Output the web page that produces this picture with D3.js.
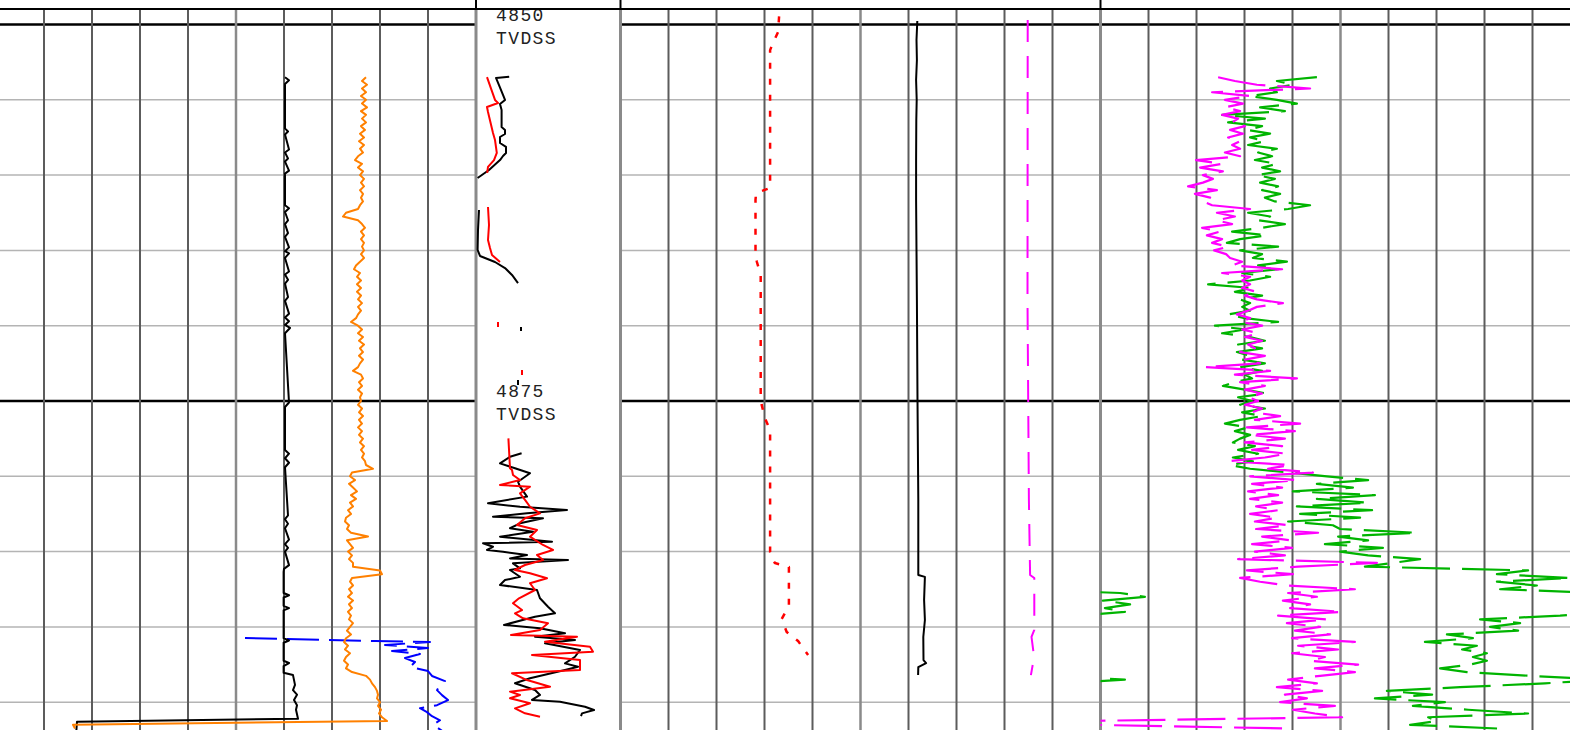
<!DOCTYPE html>
<html>
<head>
<meta charset="utf-8">
<script src="https://cdn.jsdelivr.net/npm/d3@7/dist/d3.min.js"></script>
<style>
  html, body { margin: 0; padding: 0; background: #fff; overflow: hidden; }
  svg { display: block; }
</style>
</head>
<body>
<div id="log-container"></div>
<script>
// Depth reference (metres TVDSS)
const majorDepths = [4850, 4875];
const gridDepths = [4845, 4850, 4855, 4860, 4865, 4870, 4875, 4880, 4885, 4890, 4895, 4900];
const depthUnit = 'TVDSS';

// Regularly sampled logs: top depth and step as in the LAS file
const sampleTop = 4853.5;
const sampleStep = 0.25;

// Track 1, orange curve
const grValues = [
  92.5, 91.5, 92.75, 91.5, 92.5, 91.25, 92.5, 91.5, 92.75, 91.25,
  92.5, 91.5, 92.5, 91.25, 92.25, 91, 92, 90.75, 92, 91,
  91.75, 90.5, 89.75, 91.5, 90.5, 91.75, 91, 92, 91.25, 92,
  91, 91.75, 91.25, 91.75, 91, 90.5, 87.5, 86.75, 90.5, 91.5,
  92.25, 91.25, 92, 91.25, 92, 91.5, 92, 91.25, 92, 91,
  90, 89.5, 91, 90.25, 91.25, 90.25, 91.25, 90.25, 91.25, 90.5,
  91.5, 90.5, 91.25, 90.5, 90, 88.75, 90.5, 91.5, 90.5, 91.75,
  90.75, 92, 91, 91.75, 90.75, 91.75, 91, 90.5, 89.25, 91.25,
  91.75, 90.75, 91.5, 90.5, 91.5, 91, 91.25, 90.5, 91.5, 90.75,
  91.75, 90.75, 91.5, 90.5, 91.5, 90.75, 91.75, 91, 92, 91.25,
  92, 91.5, 92.25, 92.5, 94.25, 89, 88.5, 89.75, 88.25, 89.25,
  90.25, 88.75, 90, 88.5, 89.25, 88, 88.75, 87.5, 87.25, 88.25,
  87.75, 88.75, 93, 87.75, 88.5, 89.25, 88, 89, 88.25, 89.25,
  89.25, 96, 96.5, 89, 88.5, 89.25, 88.25, 89, 88, 89.25,
  88.25, 89, 88, 88.75, 88.25, 89.25, 88.5, 87.75, 88.75, 87.5,
  87, 88, 87.25, 88.5, 87.5, 87, 88, 87.5, 89, 92.5,
  93.5, 94, 94.75, 95.25, 95.5, 95.25, 96, 95.5, 96.25, 95.75,
  96.5, 97.75, 19.25, 19.75
];

// Track 3, magenta curve
const rhobValues = [
  29.4, 33.6, 39.1, 52.4, 27.9, 37.4, 31.1, 35.6, 31.1, 34.9,
  30.4, 34.4, 32.9, 36.1, 32.4, 35.6, 31.9, 34.9, 32.9, 34.9,
  31.1, 34.9, 23.9, 30.4, 24.9, 30.6, 25.6, 28.1, 25.6, 21.9,
  29.1, 23.6, 27.4, 25.6, 27.9, 37.4, 29.1, 33.6, 29.1, 32.9,
  25.4, 29.9, 26.6, 30.4, 27.9, 31.9, 28.4, 31.4, 32.4, 35.4,
  32.9, 45.4, 30.4, 37.4, 35.4, 37.4, 35.4, 39.1, 36.1, 39.1,
  45.6, 39.1, 36.9, 34.1, 37.4, 34.9, 40.4, 35.4, 39.4, 36.1,
  40.4, 36.9, 38.6, 34.9, 41.1, 36.1, 39.9, 26.1, 42.4, 33.6,
  49.1, 34.9, 41.1, 36.1, 40.4, 36.9, 39.4, 36.1, 40.4, 37.9,
  44.9, 38.6, 49.9, 36.6, 48.6, 37.4, 46.1, 36.1, 45.4, 37.9,
  46.6, 41.1, 31.9, 47.4, 41.9, 53.1, 37.4, 49.1, 37.9, 45.4,
  36.9, 44.4, 37.4, 45.4, 38.9, 44.4, 37.4, 44.1, 38.6, 46.9,
  38.9, 54.4, 40.4, 47.4, 37.9, 47.9, 38.6, 46.1, 34.4, 69.1,
  49.4, 36.6, 48.1, 34.9, 39.9, 46.6, 63.6, 46.9, 54.1, 45.6,
  52.4, 47.4, 60.4, 44.4, 56.6, 46.6, 54.9, 48.6, 57.4, 47.9,
  63.6, 49.4, 59.4, 47.9, 56.1, 52.4, 64.4, 53.6, 63.6, 54.9,
  46.9, 54.1, 44.1, 55.4, 46.1, 51.6, 44.9, 58.6, 48.1, 53.6,
  60.4, -5.1, -2.6, 47.4
];

// Track 3, green curve (values above 120 wrap back in from the left)
const nphiValues = [
  54.1, 44.1, 48.1, 42.4, 44.1, 37.4, 44.1, 49.1, 39.9, 46.1,
  30.4, 41.1, 31.9, 40.4, 36.6, 42.4, 37.4, 41.1, 36.9, 44.1,
  39.4, 42.9, 38.6, 44.1, 40.4, 44.9, 39.1, 43.6, 39.9, 44.4,
  40.4, 44.9, 41.1, 43.6, 52.4, 46.9, 36.9, 42.4, 39.4, 46.1,
  40.4, 32.9, 41.6, 34.9, 31.6, 44.4, 34.9, 40.4, 38.1, 46.6,
  39.4, 44.4, 35.4, 42.4, 37.4, 26.9, 37.9, 33.6, 40.4, 34.9,
  37.4, 35.4, 37.4, 31.9, 36.1, 44.4, 28.6, 36.1, 30.4, 37.4,
  41.1, 34.4, 40.4, 34.1, 37.4, 35.4, 41.1, 34.9, 40.4, 36.1,
  37.9, 33.6, 30.6, 36.1, 41.6, 34.4, 37.9, 34.9, 41.1, 35.4,
  40.4, 34.9, 31.1, 36.9, 33.6, 37.4, 34.9, 33.1, 38.6, 34.4,
  39.4, 33.1, 38.1, 32.4, 37.4, 47.4, 56.6, 66.9, 54.1, 63.1,
  48.1, 68.6, 54.1, 66.9, 49.1, 67.9, 49.9, 64.9, 46.9, 58.1,
  59.9, 79.1, 59.4, 66.9, 56.1, 70.6, 59.9, 66.9, 79.9, 73.1,
  66.1, 106.9, 99.1, 117.4, 99.1, 109.1, 99.9, 124.9, 131.1, 120.6,
  127.4, 121.1, 126.1, 114.9, 94.9, 104.9, 97.4, 104.4, 86.6, 93.1,
  81.1, 94.1, 90.4, 96.6, 93.1, 96.6, 92.4, 84.9, 91.6, 107.4,
  126.1, 111.1, 89.9, 71.6, 82.9, 68.6, 86.1, 78.1, 91.9, 106.9,
  81.9, 84.1, 77.4, 99.4
];

// Irregular curves as [depth, value]
// Track 1, black curve
const t1Black = [
  [4853.5, 72.25], [4853.7, 73.25], [4853.95, 72.25], [4856.9, 72.25], [4857.1, 73.0], [4857.3, 72.25],
  [4858.3, 73.25], [4858.5, 72.25], [4858.9, 73.0], [4859.1, 72.25], [4859.7, 73.25], [4859.9, 72.25],
  [4862.0, 72.25], [4862.2, 73.25], [4862.45, 72.25], [4863.0, 73.0], [4863.25, 72.25], [4863.85, 73.0],
  [4864.1, 72.25], [4864.8, 73.25], [4865.05, 72.25], [4865.2, 73.25], [4865.5, 72.25], [4866.4, 73.25],
  [4866.6, 72.25], [4866.95, 73.0], [4867.2, 72.25], [4868.1, 73.0], [4868.35, 72.25], [4869.2, 73.25],
  [4869.45, 72.25], [4869.7, 73.25], [4869.95, 72.25], [4870.15, 73.5], [4870.5, 72.25], [4875.1, 73.25],
  [4875.4, 72.25], [4878.25, 72.25], [4878.5, 73.25], [4878.8, 72.25], [4879.1, 73.25], [4879.4, 72.25],
  [4882.6, 73.0], [4882.85, 72.25], [4883.15, 73.0], [4883.45, 72.25], [4884.2, 73.25], [4884.5, 72.25],
  [4884.75, 73.0], [4885.0, 72.25], [4885.9, 73.25], [4886.15, 72.0], [4886.35, 71.9], [4887.75, 71.9],
  [4887.9, 73.25], [4888.05, 71.9], [4888.6, 71.9], [4888.75, 73.25], [4888.9, 71.9], [4890.75, 71.9],
  [4890.9, 73.25], [4891.05, 71.9], [4892.25, 71.9], [4892.4, 73.25], [4892.6, 71.9], [4893.05, 71.9],
  [4893.2, 74.25], [4893.85, 74.75], [4894.2, 74.25], [4894.5, 75.25], [4894.85, 74.5], [4895.2, 75.25],
  [4895.5, 75.0], [4896.1, 75.5], [4896.3, 20.25], [4897.2, 20.0]
];

// Track 1, blue curve
const t1Blue = [
  [4890.74, 62.25], [4890.94, 94.75], [4891.0, 108.5], [4891.2, 97.25], [4891.4, 108], [4891.6, 99],
  [4891.8, 106], [4892.07, 102.25], [4892.33, 104.75], [4892.66, 103.5], [4892.93, 108], [4893.26, 109],
  [4893.6, 112.25], [4893.86, 111], [4894.2, 110.25], [4894.53, 111.5], [4894.86, 113], [4895.2, 110.25],
  [4895.4, 106], [4895.66, 107.75], [4895.93, 109], [4896.2, 111], [4896.5, 109.25], [4896.9, 111.5]
];

// Track 2 curves
const t2Red = [
  [4848.4, 39.9], [4850.5, 39.4], [4851.23, 38.1], [4851.7, 37.4], [4860.86, 37.4], [4861.19, 33.9],
  [4861.65, 33.75], [4865.3, 33.75], [4865.77, 34.1], [4866.63, 35.05], [4874.93, 35.05], [4875.26, 35.3],
  [4876.13, 36.1], [4876.93, 37.4], [4885.03, 37.4], [4885.43, 37.9], [4885.76, 38.6], [4886.02, 42.1],
  [4888.61, 42.1], [4889.48, 40.3], [4890.34, 41.55], [4890.94, 44.4], [4891.87, 46.9]
];
const t2Black = [
  [4849.77, 74.2], [4851.03, 74.0], [4852.36, 74.1], [4853.69, 73.9], [4855.0, 74.05], [4856.34, 73.95],
  [4859.0, 73.9], [4861.65, 73.9], [4865.0, 74.0], [4868.29, 74.1], [4874.93, 74.25], [4881.57, 74.45],
  [4886.55, 74.45], [4886.68, 76.1], [4888.21, 75.9], [4889.54, 76.1], [4890.67, 75.7], [4892.2, 75.75],
  [4892.4, 76.4], [4892.67, 74.45], [4893.2, 74.4]
];
const t2Magenta = [
  [4849.7, 101.8], [4868.29, 101.75], [4881.57, 102.1], [4886.55, 102.4], [4886.75, 103.45],
  [4890.2, 103.45], [4890.67, 102.75], [4892.0, 103.4], [4893.2, 102.6]
];

// Depth track curves (null = no data)
const dtBlack = [
  [4853.47, 8.3], [4853.55, 5.0], [4854.02, 5.75], [4854.68, 6.75], [4855.01, 7.25], [4855.28, 6.0],
  [4855.68, 6.4], [4856.81, 6.4], [4857.0, 7.25], [4857.27, 7.25], [4857.47, 6.0], [4857.87, 6.0],
  [4858.13, 7.5], [4858.53, 7.5], [4858.73, 6.75], [4859.0, 6.0], [4859.66, 3.25], [4860.19, 0.4],
  [4861, null],
  [4862.32, 0.75], [4863.65, 0.5], [4864.97, 0.4], [4865.37, 1.0], [4865.77, 4.75], [4866.17, 7.25],
  [4866.63, 9.0], [4867.17, 10.5],
  [4868, null], [4870.08, 11.25], [4870.35, 11.25], [4871, null], [4873.6, 10.5], [4873.94, 10.5], [4875, null],
  [4878.47, 11.4], [4878.7, 8.5], [4879.14, 6.0], [4879.47, 9.75], [4879.8, 13.5], [4880.36, 10.5],
  [4880.69, 11.0], [4881.35, 12.75], [4881.79, 3.0], [4882.02, 11.0], [4882.24, 22.75], [4882.46, 12.75],
  [4882.68, 4.25], [4882.79, 16.75], [4883.12, 11.0], [4883.45, 8.5], [4883.68, 14.25], [4884.01, 6.0],
  [4884.34, 19.0], [4884.45, 1.75], [4884.68, 4.25], [4884.89, 2.75], [4885.01, 6.75], [4885.23, 12.75],
  [4885.45, 8.5], [4885.56, 23.0], [4885.78, 9.25], [4886.11, 11.0], [4886.22, 8.5], [4886.67, 11.0],
  [4886.89, 7.25], [4887.22, 6.0], [4887.55, 15.25], [4888.1, 16.0], [4888.66, 18.0], [4889.1, 19.75],
  [4889.32, 14.75], [4889.87, 7.0], [4890.09, 16.0], [4890.42, 22.25], [4890.65, 14.75], [4890.87, 24.75],
  [4891.09, 17.25], [4891.53, 26.0], [4891.98, 24.75], [4892.42, 22.25], [4892.64, 25.5], [4892.86, 22.25],
  [4893.41, 13.5], [4893.74, 9.75], [4894.19, 14.75], [4894.52, 16.0], [4894.85, 14.0], [4894.97, 21.0],
  [4895.3, 27.25], [4895.52, 29.5], [4895.74, 26.5], [4895.92, 26.25]
];
const dtRed = [
  [4853.49, 2.75], [4855.01, 4.75], [4855.21, 5.5], [4855.48, 2.75], [4855.81, 3.0], [4857.2, 4.25],
  [4857.67, 4.75], [4858.53, 5.2], [4859.0, 4.5], [4859.46, 3.0], [4859.86, 2.8],
  [4860.5, null],
  [4862.12, 3.0], [4863.31, 3.25], [4864.31, 3.0], [4864.84, 3.5], [4865.31, 4.0], [4865.77, 6.0],
  [4868, null], [4869.75, 5.5], [4870.08, 5.5], [4871, null], [4872.94, 11.5], [4873.27, 11.5], [4875, null],
  [4877.48, 8.1], [4879.47, 8.5], [4879.58, 9.0], [4879.91, 9.25], [4880.25, 11.0], [4880.58, 6.0],
  [4880.69, 13.5], [4881.13, 11.0], [4881.57, 12.25], [4882.02, 13.5], [4882.46, 16.0], [4882.79, 12.25],
  [4883.23, 10.25], [4883.57, 15.25], [4884.01, 13.5], [4884.56, 16.75], [4884.89, 19.25], [4885.23, 15.25],
  [4885.56, 16.75], [4885.89, 12.25], [4886.22, 9.75], [4886.44, 13.5], [4886.77, 17.75], [4887.1, 13.5],
  [4887.55, 14.75], [4888.1, 10.75], [4888.43, 9.25], [4888.88, 11.5], [4889.1, 9.75], [4889.43, 11.75],
  [4889.76, 18.0], [4890.21, 16.0], [4890.54, 8.75], [4890.65, 25.25], [4890.98, 17.25], [4891.32, 28.5],
  [4891.65, 29.25], [4891.87, 14.0], [4892.2, 26.0], [4892.86, 26.0], [4893.08, 9.0], [4893.53, 12.75],
  [4893.97, 18.5], [4894.3, 8.5], [4894.52, 11.0], [4894.74, 8.5], [4895.07, 13.5], [4895.41, 9.75],
  [4895.74, 12.25], [4895.96, 16.0]
];

// ---------------------------------------------------------------
const width = 1570;
const height = 730;
const headerY = 9;

const svg = d3.select('#log-container')
  .append('svg')
  .attr('width', width)
  .attr('height', height)
  .style('background-color', 'white');

// Depth scale
const y = d3.scaleLinear().domain([4850, 4875]).range([24.5, 401]);

// Tracks and their value scales
const tracks = [
  { id: 't1', x: d3.scaleLinear().domain([0, 120]).range([-4, 476]) },
  { id: 't2', x: d3.scaleLinear().domain([0, 120]).range([620.5, 1100.5]) },
  { id: 't3', x: d3.scaleLinear().domain([0, 120]).range([1100.5, 1580.5]) },
];
const depthTrack = { id: 'dt', x: d3.scaleLinear().domain([0, 36]).range([476, 620]) };

const defs = svg.append('defs');
[...tracks, depthTrack].forEach((t) => {
  const [x0, x1] = t.x.range();
  defs.append('clipPath').attr('id', `clip-${t.id}`)
    .append('rect')
    .attr('x', x0).attr('y', headerY + 1)
    .attr('width', x1 - x0).attr('height', height - headerY - 1);
});

// Grid
const grid = svg.append('g');
tracks.forEach((t) => {
  const [x0, x1] = t.x.range();
  grid.append('g').selectAll('line')
    .data(gridDepths)
    .enter()
    .append('line')
    .attr('x1', x0).attr('x2', x1)
    .attr('y1', (d) => y(d)).attr('y2', (d) => y(d))
    .attr('stroke', (d) => (majorDepths.includes(d) ? '#000' : '#b4b4b4'))
    .attr('stroke-width', (d) => (majorDepths.includes(d) ? 2.5 : 1.5));

  grid.append('g').selectAll('line')
    .data(d3.range(0, 121, 12))
    .enter()
    .append('line')
    .attr('x1', (d) => t.x(d)).attr('x2', (d) => t.x(d))
    .attr('y1', headerY).attr('y2', height)
    .attr('stroke', (d) => (d % 60 === 0 ? '#8a8a8a' : '#5c5c5c'))
    .attr('stroke-width', (d) => (d === 0 || d === 120 ? 3 : d === 60 ? 2.5 : 2));
});

// Curve drawing
function drawCurve(track, data, color, width, dash) {
  const line = d3.line()
    .defined((d) => d[1] != null)
    .x((d) => track.x(d[1]))
    .y((d) => y(d[0]));
  track.g.append('path')
    .datum(data)
    .attr('d', line)
    .attr('fill', 'none')
    .attr('stroke', color)
    .attr('stroke-width', width)
    .attr('stroke-linejoin', 'round')
    .attr('stroke-dasharray', dash || null);
}

[...tracks, depthTrack].forEach((t) => {
  t.g = svg.append('g').attr('clip-path', `url(#clip-${t.id})`);
});
const [t1, t2, t3] = tracks;

const toPairs = (vals) => vals.map((v, i) => [sampleTop + i * sampleStep, v]);
const wrapped = (pairs, max) => pairs.map((p, i, a) => {
  const near = [a[i - 1], p, a[i + 1]].some((q) => q && q[1] > max);
  return [p[0], near ? p[1] - max : null];
});

// Track 1
drawCurve(t1, t1Blue, '#0000ff', 2, '32,10');
drawCurve(t1, t1Black, '#000000', 2);
drawCurve(t1, toPairs(grValues), '#ff8000', 2);

// Depth track curves and labels
drawCurve(depthTrack, dtBlack, '#000000', 2);
drawCurve(depthTrack, dtRed, '#ff0000', 2);
depthTrack.g.selectAll('.depth-label')
  .data(majorDepths)
  .enter()
  .append('text')
  .attr('class', 'depth-label')
  .attr('x', 496)
  .attr('font-family', '"Liberation Mono", "DejaVu Sans Mono", monospace')
  .attr('font-size', '18px')
  .attr('letter-spacing', '1.4px')
  .attr('fill', '#222')
  .each(function (d) {
    const txt = d3.select(this);
    txt.append('tspan').attr('x', 496).attr('y', y(d) - 4).text(d);
    txt.append('tspan').attr('x', 496).attr('y', y(d) + 19).text(depthUnit);
  });

// Track 2
drawCurve(t2, t2Red, '#ff0000', 2.5, '6,10');
drawCurve(t2, t2Black, '#000000', 2);
drawCurve(t2, t2Magenta, '#ff00ff', 2, '22,14');

// Track 3
const nphiPairs = toPairs(nphiValues);
drawCurve(t3, nphiPairs, '#00b400', 2.2, '48,12');
drawCurve(t3, wrapped(nphiPairs, 120), '#00b400', 2.2, '48,12');
drawCurve(t3, toPairs(rhobValues), '#ff00ff', 2.2, '48,12');

// Header line and track ticks
svg.append('line')
  .attr('x1', 0).attr('x2', width)
  .attr('y1', headerY).attr('y2', headerY)
  .attr('stroke', '#000').attr('stroke-width', 2);
svg.append('g').selectAll('line')
  .data([476, 620.5, 1100.5])
  .enter()
  .append('line')
  .attr('x1', (d) => d).attr('x2', (d) => d)
  .attr('y1', 0).attr('y2', headerY)
  .attr('stroke', '#000').attr('stroke-width', 2);
</script>
</body>
</html>
